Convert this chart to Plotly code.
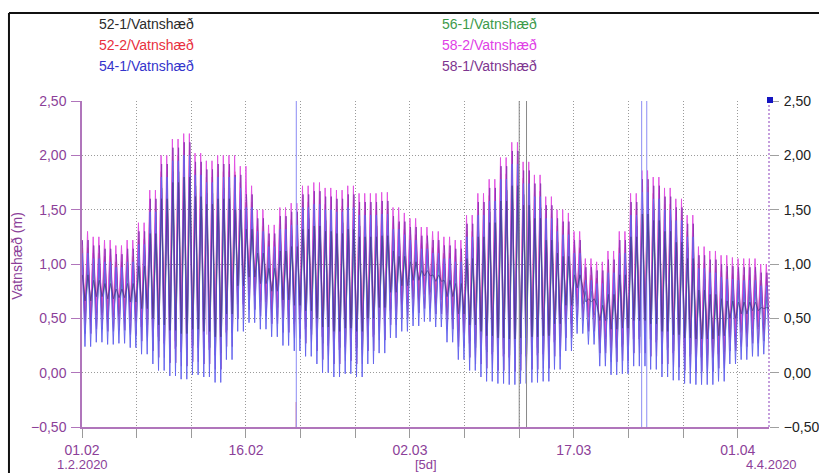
import datetime as dt
import plotly.graph_objects as go

# ---------------- data ----------------
START = dt.datetime(2020, 2, 1)
END = dt.datetime(2020, 4, 3, 20, 24)
FIRST_HIGH = dt.datetime(2020, 2, 1, 0, 20)
HALF_TIDE_HOURS = 6.21  # semidiurnal tide: high -> low spacing

SERIES_NAMES = ["52-1/Vatnshæð", "52-2/Vatnshæð", "54-1/Vatnshæð",
                "56-1/Vatnshæð", "58-2/Vatnshæð", "58-1/Vatnshæð"]

# daily high-water levels (m), 1.2.2020 ... 3.4.2020
high_58_2 = [1.30, 1.25, 1.22, 1.17, 1.22, 1.38, 1.68, 2.00, 2.15, 2.20, 2.02, 1.95, 2.00, 2.00, 1.90, 1.72,
             1.50, 1.36, 1.52, 1.56, 1.72, 1.75, 1.70, 1.68, 1.72, 1.65, 1.65, 1.66, 1.52, 1.47, 1.42, 1.34,
             1.30, 1.25, 1.22, 1.45, 1.65, 1.78, 1.98, 2.12, 1.94, 1.82, 1.62, 1.50, 1.47, 1.30, 1.05, 1.02,
             1.12, 1.30, 1.65, 1.86, 1.80, 1.70, 1.60, 1.45, 1.16, 1.12, 1.08, 1.06, 1.05, 1.05, 1.00]
low_58_2 = [0.49, 0.53, 0.51, 0.52, 0.48, 0.42, 0.33, 0.27, 0.22, 0.19, 0.23, 0.21, 0.16, 0.37, 0.63, 0.71,
            0.65, 0.58, 0.50, 0.45, 0.40, 0.33, 0.25, 0.21, 0.24, 0.21, 0.33, 0.43, 0.57, 0.63, 0.68, 0.72,
            0.67, 0.53, 0.37, 0.27, 0.21, 0.17, 0.15, 0.14, 0.15, 0.16, 0.17, 0.28, 0.45, 0.61, 0.51, 0.31,
            0.23, 0.24, 0.31, 0.31, 0.28, 0.21, 0.18, 0.15, 0.14, 0.14, 0.17, 0.33, 0.37, 0.40, 0.42]

high_58_1 = [1.22, 1.17, 1.14, 1.09, 1.14, 1.30, 1.60, 1.92, 2.07, 2.12, 1.94, 1.87, 1.92, 1.92, 1.82, 1.64,
             1.42, 1.28, 1.44, 1.48, 1.64, 1.67, 1.62, 1.60, 1.64, 1.57, 1.57, 1.58, 1.44, 1.39, 1.34, 1.26,
             1.22, 1.17, 1.14, 1.37, 1.57, 1.70, 1.90, 2.04, 1.86, 1.74, 1.54, 1.42, 1.39, 1.22, 0.97, 0.94,
             1.04, 1.22, 1.57, 1.78, 1.72, 1.62, 1.52, 1.37, 1.08, 1.04, 1.00, 0.98, 0.97, 0.97, 0.92]
low_58_1 = [0.36, 0.40, 0.38, 0.39, 0.35, 0.29, 0.20, 0.14, 0.09, 0.06, 0.10, 0.08, 0.03, 0.24, 0.50, 0.58,
            0.52, 0.45, 0.37, 0.32, 0.27, 0.20, 0.12, 0.08, 0.11, 0.08, 0.20, 0.30, 0.44, 0.50, 0.55, 0.59,
            0.54, 0.40, 0.24, 0.14, 0.08, 0.04, 0.02, 0.01, 0.02, 0.03, 0.04, 0.15, 0.32, 0.48, 0.38, 0.18,
            0.10, 0.11, 0.18, 0.18, 0.15, 0.08, 0.05, 0.02, 0.01, 0.01, 0.04, 0.20, 0.24, 0.27, 0.29]

high_54_1 = [1.10, 1.05, 1.02, 0.97, 1.02, 1.18, 1.48, 1.80, 1.95, 2.00, 1.82, 1.75, 1.80, 1.80, 1.70, 1.52,
             1.30, 1.16, 1.32, 1.36, 1.52, 1.55, 1.50, 1.48, 1.52, 1.45, 1.45, 1.46, 1.32, 1.27, 1.22, 1.14,
             1.10, 1.05, 1.02, 1.25, 1.45, 1.58, 1.78, 1.92, 1.74, 1.62, 1.42, 1.30, 1.27, 1.10, 0.85, 0.82,
             0.92, 1.10, 1.45, 1.66, 1.60, 1.50, 1.40, 1.25, 0.96, 0.92, 0.88, 0.86, 0.85, 0.85, 0.80]
low_54_1 = [0.24, 0.28, 0.26, 0.27, 0.23, 0.17, 0.08, 0.02, -0.03, -0.06, -0.02, -0.04, -0.09, 0.12, 0.38, 0.46,
            0.40, 0.33, 0.25, 0.20, 0.15, 0.08, 0.00, -0.04, -0.01, -0.04, 0.08, 0.18, 0.32, 0.38, 0.43, 0.47,
            0.42, 0.28, 0.12, 0.02, -0.04, -0.08, -0.10, -0.11, -0.10, -0.09, -0.08, 0.03, 0.20, 0.36, 0.26, 0.06,
            -0.02, -0.01, 0.06, 0.06, 0.03, -0.04, -0.07, -0.10, -0.11, -0.11, -0.08, 0.08, 0.12, 0.15, 0.17]

high_56_1 = [1.00, 0.95, 0.92, 0.87, 0.92, 1.08, 1.38, 1.70, 1.85, 1.90, 1.72, 1.65, 1.70, 1.70, 1.60, 1.42,
             1.20, 1.06, 1.22, 1.26, 1.42, 1.45, 1.40, 1.38, 1.42, 1.35, 1.35, 1.36, 1.22, 1.17, 1.12, 1.04,
             1.00, 0.95, 0.92, 1.15, 1.35, 1.48, 1.68, 1.82, 1.64, 1.52, 1.32, 1.20, 1.17, 1.00, 0.75, 0.72,
             0.82, 1.00, 1.35, 1.56, 1.50, 1.40, 1.30, 1.15, 0.86, 0.82, 0.78, 0.76, 0.75, 0.75, 0.70]
low_56_1 = [0.51, 0.55, 0.53, 0.54, 0.50, 0.44, 0.35, 0.29, 0.24, 0.21, 0.25, 0.23, 0.18, 0.39, 0.65, 0.73,
            0.67, 0.60, 0.52, 0.47, 0.42, 0.35, 0.27, 0.23, 0.26, 0.23, 0.35, 0.45, 0.59, 0.65, 0.70, 0.74,
            0.69, 0.55, 0.39, 0.29, 0.23, 0.19, 0.17, 0.16, 0.17, 0.18, 0.19, 0.30, 0.47, 0.63, 0.53, 0.33,
            0.25, 0.26, 0.33, 0.33, 0.30, 0.23, 0.20, 0.17, 0.16, 0.16, 0.19, 0.35, 0.39, 0.42, 0.44]

high_52_2 = [1.15, 1.10, 1.07, 1.02, 1.07, 1.23, 1.53, 1.85, 2.00, 2.05, 1.87, 1.80, 1.85, 1.85, 1.75, 1.57,
             1.35, 1.21, 1.37, 1.41, 1.57, 1.60, 1.55, 1.53, 1.57, 1.50, 1.50, 1.51, 1.37, 1.32, 1.27, 1.19,
             1.15, 1.10, 1.07, 1.30, 1.50, 1.63, 1.83, 1.97, 1.79, 1.67, 1.47, 1.35, 1.32, 1.15, 0.90, 0.87,
             0.97, 1.15, 1.50, 1.71, 1.65, 1.55, 1.45, 1.30, 1.01, 0.97, 0.93, 0.91, 0.90, 0.90, 0.85]
low_52_2 = [0.56, 0.60, 0.58, 0.59, 0.55, 0.49, 0.40, 0.34, 0.29, 0.26, 0.30, 0.28, 0.23, 0.44, 0.70, 0.78,
            0.72, 0.65, 0.57, 0.52, 0.47, 0.40, 0.32, 0.28, 0.31, 0.28, 0.40, 0.50, 0.64, 0.70, 0.75, 0.79,
            0.74, 0.60, 0.44, 0.34, 0.28, 0.24, 0.22, 0.21, 0.22, 0.23, 0.24, 0.35, 0.52, 0.68, 0.58, 0.38,
            0.30, 0.31, 0.38, 0.38, 0.35, 0.28, 0.25, 0.22, 0.21, 0.21, 0.24, 0.40, 0.44, 0.47, 0.49]

high_52_1 = [0.90, 0.85, 0.82, 0.77, 0.82, 0.98, 1.28, 1.60, 1.75, 1.80, 1.62, 1.55, 1.60, 1.60, 1.50, 1.32,
             1.10, 0.96, 1.12, 1.16, 1.32, 1.35, 1.30, 1.28, 1.32, 1.25, 1.25, 1.26, 1.12, 1.07, 1.02, 0.94,
             0.90, 0.85, 0.82, 1.05, 1.25, 1.38, 1.58, 1.72, 1.54, 1.42, 1.22, 1.10, 1.07, 0.90, 0.65, 0.62,
             0.72, 0.90, 1.25, 1.46, 1.40, 1.30, 1.20, 1.05, 0.76, 0.72, 0.68, 0.66, 0.65, 0.65, 0.60]
low_52_1 = [0.66, 0.70, 0.68, 0.69, 0.65, 0.59, 0.50, 0.44, 0.39, 0.36, 0.40, 0.38, 0.33, 0.54, 0.80, 0.88,
            0.82, 0.75, 0.67, 0.62, 0.57, 0.50, 0.42, 0.38, 0.41, 0.38, 0.50, 0.60, 0.74, 0.80, 0.85, 0.89,
            0.84, 0.70, 0.54, 0.44, 0.38, 0.34, 0.32, 0.31, 0.32, 0.33, 0.34, 0.45, 0.62, 0.78, 0.68, 0.48,
            0.40, 0.41, 0.48, 0.48, 0.45, 0.38, 0.35, 0.32, 0.31, 0.31, 0.34, 0.50, 0.54, 0.57, 0.59]

# outliers in the logger data: (time, top of jump, bottom of jump)
spikes_54_1 = [("2020-02-20 14:30", 3.0, -1.0), ("2020-03-23 04:48", 3.0, -1.0),
               ("2020-03-23 16:00", 3.0, -1.0)]
spikes_52_2 = [("2020-02-20 14:00", -0.27, -1.0)]
spikes_52_1 = [("2020-03-12 00:00", 3.0, -1.0), ("2020-03-12 16:00", 3.0, -1.0)]
spikes_58_1 = [("2020-02-12 10:00", 1.55, 0.35)]

# station tide delay (minutes)
delay_min = {"52-1/Vatnshæð": 20, "52-2/Vatnshæð": -20, "54-1/Vatnshæð": 0,
             "56-1/Vatnshæð": 45, "58-2/Vatnshæð": -35, "58-1/Vatnshæð": 35}

TICK_DATES = ["2020-02-01", "2020-02-06", "2020-02-11", "2020-02-16", "2020-02-21", "2020-02-26",
              "2020-03-02", "2020-03-07", "2020-03-12", "2020-03-17", "2020-03-22", "2020-03-27",
              "2020-04-01"]
TICK_LABELS = ["01.02", "", "", "16.02", "", "", "02.03", "", "", "17.03", "", "", "01.04"]
Y_TICKS = [-0.5, 0.0, 0.5, 1.0, 1.5, 2.0, 2.5]

# ---------------- styles ----------------
LINE_COLORS = {"52-1/Vatnshæð": "#303070", "52-2/Vatnshæð": "#e0404e", "54-1/Vatnshæð": "#6666ee",
               "56-1/Vatnshæð": "#3aa85a", "58-2/Vatnshæð": "#e252e2", "58-1/Vatnshæð": "#9238b4"}
SPIKE_COLORS = {"52-1/Vatnshæð": "#8a8a8a", "52-2/Vatnshæð": "#f08a96", "54-1/Vatnshæð": "#8c8cf4",
                "58-1/Vatnshæð": "#d8a8ec"}
TEXT_COLORS = {"52-1/Vatnshæð": "#2b2b2b", "52-2/Vatnshæð": "#e8303e", "54-1/Vatnshæð": "#3434cc",
               "56-1/Vatnshæð": "#3d9a4a", "58-2/Vatnshæð": "#e040e6", "58-1/Vatnshæð": "#7e3590"}
AX_PURPLE = "#8c3f99"
FONT = "Liberation Sans, Arial, sans-serif"


def build(highs, lows, delay):
    xs, ys = [], []
    t = FIRST_HIGH + dt.timedelta(minutes=delay)
    k = 0
    step = dt.timedelta(hours=HALF_TIDE_HOURS)
    while t <= END + step:
        d = min((t - START).days, len(highs) - 1)
        xs.append(t)
        ys.append(highs[d] if k % 2 == 0 else lows[d])
        t += step
        k += 1
    return xs, ys


def build_spikes(spikes):
    xs, ys = [], []
    for ts, top, bottom in spikes:
        t = dt.datetime.strptime(ts, "%Y-%m-%d %H:%M")
        xs += [t, t, None]
        ys += [top, bottom, None]
    return xs, ys


series = {
    "52-1/Vatnshæð": (high_52_1, low_52_1, spikes_52_1),
    "52-2/Vatnshæð": (high_52_2, low_52_2, spikes_52_2),
    "54-1/Vatnshæð": (high_54_1, low_54_1, spikes_54_1),
    "56-1/Vatnshæð": (high_56_1, low_56_1, []),
    "58-2/Vatnshæð": (high_58_2, low_58_2, []),
    "58-1/Vatnshæð": (high_58_1, low_58_1, spikes_58_1),
}

draw_order = ["56-1/Vatnshæð", "52-2/Vatnshæð", "58-2/Vatnshæð", "58-1/Vatnshæð",
              "54-1/Vatnshæð", "52-1/Vatnshæð"]

fig = go.Figure()
for name in draw_order:
    hi, lo, sp = series[name]
    xs, ys = build(hi, lo, delay_min[name])
    axis = "y2" if name in ("54-1/Vatnshæð", "52-1/Vatnshæð") else "y"
    fig.add_trace(go.Scatter(
        x=xs, y=ys, mode="lines", name=name, showlegend=False,
        line=dict(color=LINE_COLORS[name], width=1), yaxis=axis, hoverinfo="skip",
        opacity=0.6 if name == "52-1/Vatnshæð" else 1.0,
    ))
    if sp:
        sx, sy = build_spikes(sp)
        fig.add_trace(go.Scatter(
            x=sx, y=sy, mode="lines", name=name, showlegend=False, connectgaps=False,
            line=dict(color=SPIKE_COLORS[name], width=1), yaxis=axis, hoverinfo="skip",
        ))

# legend written as coloured text in two columns
annotations = []
leg_x = [0.0218, 0.0218, 0.0218, 0.5211, 0.5211, 0.5211]
leg_y = [1.2362, 1.1718, 1.1074, 1.2362, 1.1718, 1.1074]
for name, lx, ly in zip(SERIES_NAMES, leg_x, leg_y):
    annotations.append(dict(text=name, x=lx, y=ly, xref="paper", yref="paper",
                            xanchor="left", yanchor="middle", showarrow=False,
                            font=dict(family=FONT, size=14, color=TEXT_COLORS[name])))

for txt, ax_ in [("1.2.2020", 0.0), ("[5d]", 0.5), ("4.4.2020", 1.003)]:
    annotations.append(dict(text=txt, x=ax_, y=-0.1135, xref="paper", yref="paper",
                            xanchor="center", yanchor="middle", showarrow=False,
                            font=dict(family=FONT, size=13, color=AX_PURPLE)))

annotations.append(dict(text="Vatnshæð (m)", x=-0.0946, y=0.525, xref="paper", yref="paper",
                        textangle=-90, showarrow=False, xanchor="center", yanchor="middle",
                        font=dict(family=FONT, size=14, color=AX_PURPLE)))

shapes = [
    # outer frame (left and top)
    dict(type="line", xref="paper", yref="paper", x0=-0.1063, x1=-0.1063, y0=-0.3, y1=1.2699,
         line=dict(color="#111111", width=2)),
    dict(type="line", xref="paper", yref="paper", x0=-0.1063, x1=1.2, y0=1.2699, y1=1.2699,
         line=dict(color="#111111", width=2)),
    # right edge dotted line
    dict(type="line", xref="paper", yref="paper", x0=1, x1=1, y0=0, y1=1,
         line=dict(color="#b27fd2", width=1.5, dash="2px,2px"), layer="above"),
    # marker at the top right
    dict(type="rect", xref="paper", yref="paper", x0=0.9971, x1=1.0058, y0=0.9939, y1=1.0123,
         fillcolor="#1414c0", line=dict(width=0), layer="above"),
]

grid = dict(showgrid=True, gridcolor="#9a9a9a", gridwidth=1, griddash="1px,2px")

fig.update_layout(
    width=819, height=473,
    margin=dict(l=82, r=50, t=101, b=46, autoexpand=False),
    paper_bgcolor="white", plot_bgcolor="white",
    separators=", ",
    font=dict(family=FONT, size=14, color=AX_PURPLE),
    xaxis=dict(type="date", range=[START, END], tickvals=TICK_DATES, ticktext=TICK_LABELS,
               ticks="outside", ticklen=9, tickcolor="#9a9a9a", showline=True, linecolor="#b075bb",
               linewidth=1.5, tickfont=dict(family=FONT, size=14, color=AX_PURPLE), zeroline=False,
               automargin=False, **grid),
    yaxis=dict(range=[-0.5, 2.5], tickvals=Y_TICKS, tickformat=".2f", ticks="outside", ticklen=9,
               tickcolor="#b075bb", showline=True, linecolor="#b075bb", linewidth=1.5, zeroline=False,
               tickfont=dict(family=FONT, size=14, color=AX_PURPLE), ticklabelstandoff=2,
               automargin=False, **grid),
    yaxis2=dict(range=[-0.5, 2.5], tickvals=Y_TICKS, tickformat=".2f", overlaying="y", side="right",
                ticks="outside", ticklen=9, tickcolor="#a0a0a0", showline=False, showgrid=False,
                zeroline=False, tickfont=dict(family=FONT, size=14, color="#222222"),
                ticklabelstandoff=2, automargin=False),
    annotations=annotations,
    shapes=shapes,
)

# remove the page's default body margin so the 819x473 figure fills the window
fig.write_html("out.html", config={"displayModeBar": False},
               post_script="document.body.style.margin='0';")
